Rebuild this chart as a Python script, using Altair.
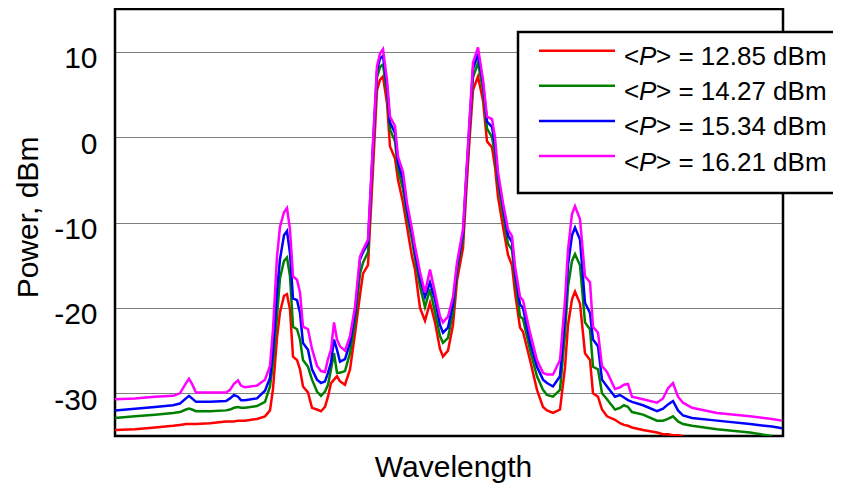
import altair as alt
import pandas as pd

# arbitrary wavelength units (axis is unlabeled)
wavelength = [
    115, 135, 155, 173, 180, 186, 189, 192, 196, 210,
    226, 230, 234, 238, 241, 245, 257, 265, 270, 273,
    277, 280, 284, 287, 290, 293, 297, 300, 303, 308,
    312, 317, 321, 325, 328, 331, 334, 337, 340, 345,
    350, 355, 360, 363, 368, 372, 377, 380, 383, 387,
    390, 395, 398, 403, 407, 412, 415, 420, 425, 430,
    435, 440, 443, 448, 453, 457, 463, 467, 470, 473,
    478, 483, 487, 492, 495, 498, 503, 508, 512, 515,
    520, 523, 530, 537, 543, 547, 553, 560, 565, 568,
    572, 575, 580, 585, 590, 593, 598, 602, 607, 615,
    620, 624, 628, 632, 643, 657, 663, 668, 673, 678,
    683, 692, 717, 750, 772, 782,
]

p_1285 = [
    -34.3, -34.2, -34.0, -33.8, -33.7, -33.6, -33.6, -33.6, -33.6, -33.5,
    -33.3, -33.3, -33.3, -33.2, -33.2, -33.2, -33.0, -32.7, -32.0, -29.5,
    -23.5, -20.5, -18.6, -18.4, -20.2, -25.7, -26.1, -27.2, -29.2, -29.9,
    -31.7, -31.9, -32.1, -31.6, -30.4, -28.8, -28.4, -28.0, -28.6, -29.0,
    -27.2, -23.0, -18.5, -16.0, -15.0, -6.0, 5.5, 6.7, 7.1, 4.0,
    -1.1, -2.5, -5.0, -7.7, -10.5, -14.0, -15.5, -20.0, -21.5, -19.4,
    -21.7, -24.8, -25.7, -25.0, -22.0, -16.8, -13.0, -5.0, 0.5, 5.5,
    7.1, 4.3, -0.5, -1.2, -3.5, -7.0, -10.5, -13.8, -15.0, -18.2,
    -22.3, -22.8, -26.1, -29.6, -31.6, -32.0, -32.3, -31.9, -27.0, -22.0,
    -19.0, -18.1, -19.5, -25.3, -26.1, -30.0, -30.4, -31.9, -32.7, -33.1,
    -33.5, -33.7, -33.8, -34.0, -34.3, -34.6, -34.8, -34.8, -34.9, -34.9,
    -35.0, None, None, None, None, None,
]

p_1427 = [
    -32.9, -32.7, -32.5, -32.3, -32.2, -31.9, -31.8, -31.9, -32.1, -32.1,
    -32.0, -31.9, -31.7, -31.6, -31.7, -31.7, -31.5, -31.0, -29.2, -26.5,
    -21.0, -16.5, -14.5, -14.1, -16.3, -22.2, -22.5, -23.7, -26.1, -26.9,
    -28.4, -29.8, -30.3, -29.8, -29.0, -27.2, -25.3, -27.6, -27.6, -27.4,
    -25.3, -21.7, -16.0, -14.7, -13.5, -4.0, 7.0, 8.2, 8.5, 5.2,
    0.9, -0.5, -3.8, -6.1, -9.2, -12.0, -14.2, -17.5, -19.9, -17.8,
    -20.5, -23.3, -24.1, -23.5, -20.5, -15.8, -11.8, -3.8, 1.8, 7.0,
    8.7, 5.5, 1.0, 0.0, -2.0, -5.3, -9.0, -12.5, -13.2, -16.6,
    -21.0, -21.3, -24.9, -28.0, -29.6, -30.2, -30.4, -29.6, -23.0, -17.5,
    -14.5, -13.7, -15.0, -21.7, -22.5, -26.9, -27.2, -30.0, -30.7, -31.9,
    -31.7, -31.4, -31.6, -32.2, -32.5, -33.2, -33.2, -33.0, -32.7, -33.3,
    -33.6, -33.8, -34.2, -34.6, -35.0, None,
]

p_1534 = [
    -32.0, -31.8, -31.6, -31.4, -31.2, -30.6, -30.3, -30.6, -31.0, -31.0,
    -30.9, -30.6, -30.2, -30.4, -30.8, -30.8, -30.6, -29.7, -28.2, -25.0,
    -18.0, -14.3, -11.5, -11.0, -13.6, -18.9, -19.1, -20.6, -24.1, -24.9,
    -27.2, -28.4, -28.8, -28.6, -27.6, -26.4, -23.7, -24.9, -26.3, -26.0,
    -24.1, -20.6, -14.3, -13.5, -12.4, -3.2, 7.8, 9.2, 9.5, 6.0,
    1.7, 0.5, -3.0, -5.0, -8.5, -11.3, -13.5, -16.5, -18.7, -17.0,
    -19.0, -22.0, -22.9, -22.3, -19.5, -15.2, -11.2, -3.2, 2.5, 8.0,
    9.7, 6.3, 1.8, 1.2, -1.0, -4.6, -8.2, -11.5, -12.3, -15.8,
    -19.6, -20.0, -24.0, -26.9, -28.4, -28.8, -29.2, -28.0, -21.0, -15.0,
    -11.5, -10.6, -12.0, -19.4, -20.6, -23.7, -24.5, -28.4, -29.2, -30.4,
    -30.2, -30.5, -30.8, -31.0, -31.4, -32.1, -31.8, -31.3, -30.9, -32.0,
    -32.6, -32.9, -33.2, -33.6, -33.9, -34.1,
]

p_1621 = [
    -30.7, -30.6, -30.4, -30.3, -30.0, -28.8, -28.3, -28.9, -29.9, -29.9,
    -29.9, -29.6, -28.9, -28.5, -29.1, -29.3, -29.1, -28.4, -26.8, -22.5,
    -14.0, -10.5, -8.8, -8.3, -10.8, -16.3, -16.7, -18.2, -22.2, -22.5,
    -24.8, -26.8, -27.4, -27.5, -26.0, -24.9, -21.7, -23.7, -24.5, -25.0,
    -23.3, -19.9, -14.0, -13.2, -12.0, -3.0, 8.3, 9.8, 10.3, 6.7,
    2.4, 1.3, -2.3, -4.1, -7.7, -10.8, -12.8, -15.8, -18.2, -15.5,
    -18.2, -21.0, -21.7, -21.0, -18.7, -14.7, -10.8, -3.0, 2.9, 8.7,
    10.5, 6.7, 2.4, 2.1, 0.0, -4.1, -7.7, -10.8, -11.6, -15.1,
    -18.7, -19.1, -22.9, -26.1, -27.6, -27.8, -27.8, -26.1, -19.1, -13.2,
    -9.0, -8.1, -9.6, -16.3, -17.0, -22.2, -22.9, -26.8, -27.5, -29.5,
    -29.3, -29.0, -28.9, -30.4, -30.7, -31.1, -30.6, -29.4, -28.8, -30.4,
    -31.1, -31.7, -32.3, -32.7, -33.0, -33.2,
]

mean_powers = ["12.85", "14.27", "15.34", "16.21"]
series_values = [p_1285, p_1427, p_1534, p_1621]
colors = ["#ff0000", "#008000", "#0000ff", "#ff00ff"]
labels = [f"<P> = {p} dBm" for p in mean_powers]

rows = []
for lab, vals in zip(labels, series_values):
    for x, v in zip(wavelength, vals):
        if v is not None:
            rows.append({"wl": x, "power": v, "series": lab})
df = pd.DataFrame(rows)

FONT = "Liberation Sans"

lines = alt.Chart(df).mark_line(strokeWidth=2.5, clip=True).encode(
    x=alt.X(
        "wl:Q",
        scale=alt.Scale(domain=[115, 783], nice=False, zero=False),
        axis=alt.Axis(
            title="Wavelength", labels=False, ticks=False, domain=False, grid=False,
            titleFont=FONT, titleFontSize=30, titleFontWeight="normal", titleColor="black",
            titleX=338, titleY=40, titleBaseline="alphabetic", titleAlign="center",
        ),
    ),
    y=alt.Y(
        "power:Q",
        scale=alt.Scale(domain=[-35, 15], nice=False, zero=False),
        axis=alt.Axis(
            title="Power, dBm", values=[-30, -20, -10, 0, 10], ticks=False, domain=False,
            grid=True, gridDash=[1, 1], gridColor="black", gridWidth=1, gridOpacity=1,
            labelExpr="'' + datum.value",
            labelFont=FONT, labelFontSize=30, labelColor="black", labelPadding=18,
            labelBaseline="alphabetic", labelOffset=16,
            titleFont=FONT, titleFontSize=30, titleFontWeight="normal", titleColor="black",
            titleAngle=270, titleX=-78, titleY=208, titleAlign="center", titleBaseline="alphabetic",
        ),
    ),
    color=alt.Color("series:N", scale=alt.Scale(domain=labels, range=colors), legend=None),
)

one = alt.Data(values=[{}])
layers = [lines]
layers.append(
    alt.Chart(one).mark_rect(fill="white", stroke="black", strokeWidth=2.5).encode(
        x=alt.value(403), x2=alt.value(760), y=alt.value(23), y2=alt.value(184)
    )
)
ROW0, ROWSTEP = 41.7, 35.1
for i, (p, col) in enumerate(zip(mean_powers, colors)):
    ly = ROW0 + ROWSTEP * i
    ty = ly + 14.5
    layers.append(
        alt.Chart(one).mark_rule(color=col, strokeWidth=2.5).encode(
            x=alt.value(424), x2=alt.value(500), y=alt.value(ly)
        )
    )
    layers.append(
        alt.Chart(one).mark_text(text="<", font=FONT, fontSize=26, align="left",
                                 baseline="alphabetic", color="black").encode(
            x=alt.value(509), y=alt.value(ty))
    )
    layers.append(
        alt.Chart(one).mark_text(text="P", font=FONT, fontSize=26, fontStyle="italic",
                                 align="left", baseline="alphabetic", color="black").encode(
            x=alt.value(524), y=alt.value(ty))
    )
    layers.append(
        alt.Chart(one).mark_text(text=f"> = {p} dBm", font=FONT, fontSize=26, align="left",
                                 baseline="alphabetic", color="black").encode(
            x=alt.value(541), y=alt.value(ty))
    )

chart = alt.layer(*layers).properties(
    width=668,
    height=427,
    autosize=alt.AutoSizeParams(type="none"),
    padding={"left": 107, "top": 1, "right": 50, "bottom": 48},
    background="white",
).configure_view(stroke="black", strokeWidth=2.5)

chart.save("out.html", embed_options={"renderer": "svg", "actions": False})
